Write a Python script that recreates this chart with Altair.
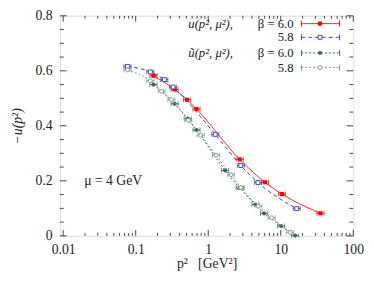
import altair as alt
import pandas as pd

# ---- data ----
u60_p2 = [0.176, 0.344, 0.511, 0.689, 2.72, 6.04, 10.4, 35.3]
u60_val = [0.582, 0.532, 0.495, 0.461, 0.278, 0.195, 0.152, 0.082]
u58_p2 = [0.077, 0.159, 0.248, 0.328, 1.25, 2.81, 4.85, 16.6]
u58_val = [0.616, 0.596, 0.568, 0.541, 0.369, 0.256, 0.194, 0.099]
ut60_p2 = [0.176, 0.344, 0.522, 0.689, 1.71, 2.72, 4.47, 5.9, 10.1, 15.8]
ut60_val = [0.550, 0.480, 0.426, 0.385, 0.238, 0.174, 0.114, 0.082, 0.036, 0.001]
ut58_p2 = [0.077, 0.159, 0.228, 0.311, 0.53, 0.788, 1.28, 2.06, 2.81, 4.9, 7.5, 13.5]
ut58_val = [0.603, 0.564, 0.526, 0.495, 0.420, 0.366, 0.293, 0.222, 0.176, 0.108, 0.066, 0.013]
p2_rel_err = 0.12

x_major = [0.01, 0.1, 1, 10, 100]
x_minor = [m * d for d in [0.01, 0.1, 1, 10] for m in range(2, 10)]
y_major = [0, 0.2, 0.4, 0.6, 0.8]
y_minor = [0.05, 0.1, 0.15, 0.25, 0.3, 0.35, 0.45, 0.5, 0.55, 0.65, 0.7, 0.75]

legend_func = ["u(p², μ²),", "", "ũ(p², μ²),", ""]
legend_beta = ["β = 6.0", "5.8", "β = 6.0", "5.8"]

W, H = 300, 225
FONT = "Liberation Serif, Times New Roman, serif"
FS = 14
LFS = 13
FRAME = "#444444"
TXT = "#222222"

series = [
    dict(p2=u60_p2, v=u60_val, color="#ff0000", dash=[1, 0], shape="square", filled=True, size=18),
    dict(p2=u58_p2, v=u58_val, color="#4646b4", dash=[4, 3], shape="square", filled=False, size=16),
    dict(p2=ut60_p2, v=ut60_val, color="#3f6658", dash=[2, 2], shape="circle", filled=True, size=18),
    dict(p2=ut58_p2, v=ut58_val, color="#7d9b8d", dash=[2, 2], shape="circle", filled=False, size=16),
]

xs = alt.Scale(type="log", domain=[0.009, 100])
ys = alt.Scale(domain=[0, 0.8])
x_axis = alt.Axis(values=x_major, format="~g", title="p²\u00a0\u00a0\u00a0[GeV²]", grid=False,
                  ticks=False, domain=False, labelFlush=False, labelPadding=7,
                  labelFont=FONT, labelFontSize=FS, titleFont=FONT, titleFontSize=FS,
                  titleFontWeight="normal", titlePadding=0, labelColor=TXT, titleColor=TXT)
y_axis = alt.Axis(values=y_major, format="~g", title="−u(p²)", grid=False,
                  ticks=False, domain=False, labelPadding=8,
                  labelFont=FONT, labelFontSize=FS, titleFont=FONT, titleFontSize=FS,
                  titleFontStyle="italic",
                  titleFontWeight="normal", titlePadding=11, labelColor=TXT, titleColor=TXT)

def X(field):
    return alt.X(field, type="quantitative", scale=xs, axis=x_axis)

def Y(field):
    return alt.Y(field, type="quantitative", scale=ys, axis=y_axis)

layers = []
for s in series:
    df = pd.DataFrame({"p2": s["p2"], "v": s["v"]})
    df["lo"] = df["p2"] / (1 + p2_rel_err)
    df["hi"] = df["p2"] * (1 + p2_rel_err)
    base = alt.Chart(df)
    layers.append(base.mark_line(color=s["color"], strokeDash=s["dash"], strokeWidth=1,
                                 interpolate="monotone").encode(x=X("p2"), y=Y("v")))
    layers.append(base.mark_rule(color=s["color"], strokeWidth=1).encode(
        x=X("lo"), x2="hi", y=Y("v")))
    for f in ["lo", "hi"]:
        layers.append(base.mark_tick(color=s["color"], orient="vertical", size=5, thickness=1).encode(
            x=X(f), y=Y("v")))
    layers.append(base.mark_point(shape=s["shape"], filled=s["filled"], size=s["size"],
                                  color=s["color"], fill=s["color"] if s["filled"] else "white",
                                  opacity=1, strokeWidth=1).encode(x=X("p2"), y=Y("v")))

# inward frame ticks
xmaj = pd.DataFrame({"t": x_major})
xmin = pd.DataFrame({"t": x_minor})
ymaj = pd.DataFrame({"t": y_major})
ymin = pd.DataFrame({"t": y_minor})
for df, ln in [(xmaj, 6), (xmin, 3)]:
    layers.append(alt.Chart(df).mark_rule(color=FRAME, strokeWidth=1).encode(
        x=X("t"), y=alt.value(H), y2=alt.value(H - ln)))
    layers.append(alt.Chart(df).mark_rule(color=FRAME, strokeWidth=1).encode(
        x=X("t"), y=alt.value(0), y2=alt.value(ln)))
for df, ln in [(ymaj, 7), (ymin, 4)]:
    layers.append(alt.Chart(df).mark_rule(color=FRAME, strokeWidth=1).encode(
        y=Y("t"), x=alt.value(0), x2=alt.value(ln)))
    layers.append(alt.Chart(df).mark_rule(color=FRAME, strokeWidth=1).encode(
        y=Y("t"), x=alt.value(W), x2=alt.value(W - ln)))

# annotation
ann = pd.DataFrame({"x": [0.0195], "y": [0.2], "t": ["μ = 4 GeV"]})
layers.append(alt.Chart(ann).mark_text(align="left", baseline="middle", font=FONT, fontSize=FS,
                                       color=TXT).encode(x=X("x"), y=Y("y"), text="t:N"))

# legend
row_y = [8, 22, 38, 53]
sx0, sx1, sxm = 247, 286, 266
for i, s in enumerate(series):
    one = pd.DataFrame({"a": [legend_func[i]], "b": [legend_beta[i]]})
    c = alt.Chart(one)
    layers.append(c.mark_text(align="right", baseline="middle", font=FONT, fontSize=LFS,
                              fontStyle="italic",
                              color=TXT).encode(x=alt.value(177), y=alt.value(row_y[i]), text="a:N"))
    layers.append(c.mark_text(align="right", baseline="middle", font=FONT, fontSize=LFS,
                              color=TXT).encode(x=alt.value(239), y=alt.value(row_y[i]), text="b:N"))
    layers.append(c.mark_rule(color=s["color"], strokeDash=s["dash"], strokeWidth=1).encode(
        x=alt.value(sx0), x2=alt.value(sx1), y=alt.value(row_y[i])))
    for xx in [sx0, sx1]:
        layers.append(c.mark_rule(color=s["color"], strokeWidth=1).encode(
            x=alt.value(xx), y=alt.value(row_y[i] - 3), y2=alt.value(row_y[i] + 3)))
    layers.append(c.mark_point(shape=s["shape"], filled=s["filled"], size=s["size"],
                               color=s["color"], fill=s["color"] if s["filled"] else "white",
                               opacity=1, strokeWidth=1).encode(
        x=alt.value(sxm), y=alt.value(row_y[i])))

chart = alt.layer(*layers).properties(
    width=W, height=H,
    autosize=alt.AutoSizeParams(type="none"),
    padding={"left": 53, "top": 5, "right": 13, "bottom": 35},
).configure_view(stroke=FRAME, strokeWidth=1).configure(background="white")

chart.save("out.html", embed_options={"renderer": "svg", "actions": False})
